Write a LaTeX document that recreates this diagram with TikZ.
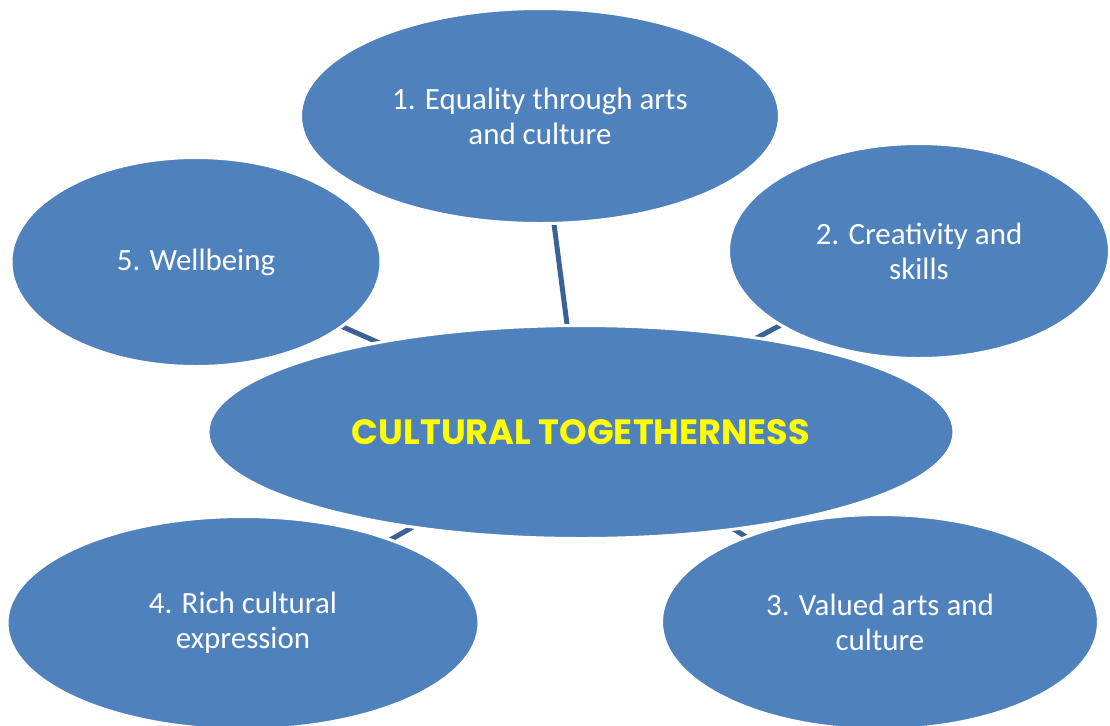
\documentclass[tikz,border=0pt]{standalone}
\usepackage{fontspec}
\setmainfont{Carlito}
\newfontfamily\titlefont{Poppins}
\usetikzlibrary{shapes.geometric}
\definecolor{bubble}{HTML}{4F81BD}
\definecolor{linkblue}{HTML}{3B6296}
\definecolor{titleyellow}{HTML}{FFFF00}
\pgfdeclarelayer{background}
\pgfsetlayers{background,main}
\def\px{0.02cm}
\tikzset{
  bubblenode/.style={ellipse, fill=bubble, draw=white, line width=3*\px,
    inner sep=0pt, outer sep=0pt, align=center, text=white,
    font=\fontsize{17.6}{19.8}\selectfont},
  linkline/.style={draw=linkblue, line width=5*\px}
}
\begin{document}
\begin{tikzpicture}[x=\px, y=-\px]
\useasboundingbox (0,0) rectangle (1110,725);
\node[bubblenode, minimum width=479*\px, minimum height=215*\px] (eq) at (540,116) {1. Equality through arts\\and culture};
\node[bubblenode, minimum width=370*\px, minimum height=209*\px] (well) at (196,262) {5. Wellbeing};
\node[bubblenode, minimum width=381*\px, minimum height=215*\px] (crea) at (919,251) {2. Creativity and\\skills};
\node[bubblenode, minimum width=472*\px, minimum height=213*\px] (rich) at (243,623) {4. Rich cultural\\expression};
\node[bubblenode, minimum width=437*\px, minimum height=215*\px] (val) at (880,622) {3. Valued arts and\\culture};
\node[bubblenode, minimum width=746*\px, minimum height=213*\px, text=titleyellow,
  font=\titlefont\bfseries\fontsize{20}{24}\selectfont] (ct) at (581,432) {CULTURAL TOGETHERNESS};
\begin{pgfonlayer}{background}
\draw[linkline] (ct.center) -- (eq.center);
\draw[linkline] (ct.center) -- (well.center);
\draw[linkline] (ct.center) -- (crea.center);
\draw[linkline] (ct.center) -- (rich.center);
\draw[linkline] (ct.center) -- (val.center);
\end{pgfonlayer}
\end{tikzpicture}
\end{document}
